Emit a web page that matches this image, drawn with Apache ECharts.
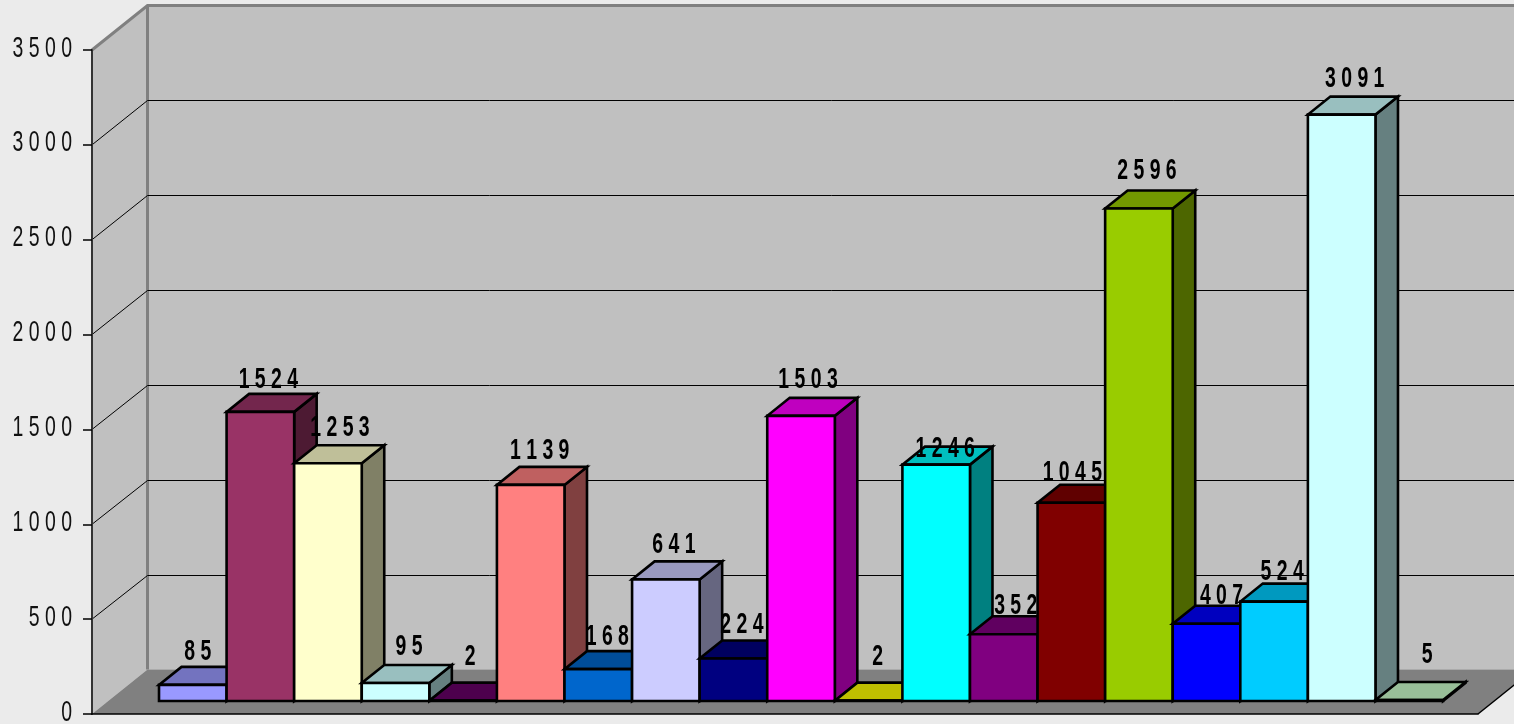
<!DOCTYPE html>
<html>
<head>
<meta charset="utf-8">
<style>html,body{margin:0;padding:0;background:#ebebeb;overflow:hidden}#c{width:1514px;height:724px}</style>
<script src="https://cdn.jsdelivr.net/npm/echarts@6/dist/echarts.min.js"></script>
</head>
<body>
<div id="c"></div>
<script>
const values = [85,1524,1253,95,2,1139,168,641,224,1503,2,1246,352,1045,2596,407,524,3091,5];
const colors = ['#9999FF','#993366','#FFFFCC','#CCFFFF','#660066','#FF8080','#0066CC','#CCCCFF','#000080','#FF00FF','#FFFF00','#00FFFF','#800080','#800000','#99CC00','#0000FF','#00CCFF','#CCFFFF','#CCFFCC'];
const yTicks = [0,500,1000,1500,2000,2500,3000,3500];

// label placement relative to the bar's front-top centre (layout only)
const labelDx = [5,8,12,13.5,7,9,9,8,8.5,7,9,9,12,1,8,15,8,13,18];
const labelDy = [-33,-32,-35,-36,-44,-34,-32,-34,-34,-36,-44,-16,-28,-30,-38,-28,-30,-36,-45];

const X_MIN = -0.7325, X_MAX = 19.776, Y_MAX = 3500;
const WALL = [55.5,-44.5], FRONT = [17.5,-13], DEPTH = [22.5,-18];
const TEXT_SCALE = 0.67;

const shade = (hex,k) => {
  const n = parseInt(hex.slice(1),16);
  const c = [n>>16&255,n>>8&255,n&255].map(v=>Math.round(v*k));
  return `rgb(${c.join(',')})`;
};
const spaced = v => String(v).split('').join(' ');
const add = (p,d) => [p[0]+d[0],p[1]+d[1]];

const chart = echarts.init(document.getElementById('c'),null,{renderer:'canvas'});
chart.setOption({
  animation:false,
  backgroundColor:'#ebebeb',
  grid:{left:92,top:50,width:1386,height:664,containLabel:false},
  xAxis:{type:'value',min:X_MIN,max:X_MAX,z:5,
    axisLine:{show:true,onZero:false,lineStyle:{color:'#000',width:1.5}},
    axisTick:{show:false},axisLabel:{show:false},splitLine:{show:false}},
  yAxis:{type:'value',min:0,max:Y_MAX,interval:500,z:5,
    axisLine:{show:true,onZero:false,lineStyle:{color:'#333',width:2}},
    axisTick:{show:true,length:9,lineStyle:{color:'#000',width:1.5}},
    axisLabel:{show:false},splitLine:{show:false}},
  series:[
    { // walls and floor
      type:'custom',z:1,silent:true,data:[[X_MIN,0]],encode:{x:0,y:1},
      renderItem(p,api){
        const bl=api.coord([X_MIN,0]), br=api.coord([X_MAX,0]), tl=api.coord([X_MIN,Y_MAX]), tr=api.coord([X_MAX,Y_MAX]);
        const poly=(pts,fill)=>({type:'polygon',shape:{points:pts},style:{fill,stroke:null}});
        return {type:'group',children:[
          poly([bl,add(bl,WALL),add(tl,WALL),tl],'#C0C0C0'),
          poly([add(bl,WALL),add(br,WALL),add(tr,WALL),add(tl,WALL)],'#C0C0C0'),
          poly([bl,br,add(br,WALL),add(bl,WALL)],'#808080'),
          {type:'line',shape:{x1:br[0],y1:br[1],x2:br[0]+WALL[0],y2:br[1]+WALL[1]},style:{stroke:'#000',lineWidth:1.5}},
          {type:'polyline',shape:{points:[tl,add(tl,WALL),add(tr,WALL)]},style:{fill:null,stroke:'#808080',lineWidth:3}},
          {type:'line',shape:{x1:bl[0]+WALL[0],y1:bl[1]+WALL[1],x2:tl[0]+WALL[0],y2:tl[1]+WALL[1]},style:{stroke:'#808080',lineWidth:3}}
        ]};
      }
    },
    { // grid lines on the walls
      type:'custom',z:2,silent:true,data:yTicks.slice(1,-1).map(t=>[X_MIN,t]),encode:{x:0,y:1},
      renderItem(p,api){
        const a=api.coord([X_MIN,api.value(1)]), b=add(a,WALL), c=add(api.coord([X_MAX,api.value(1)]),WALL);
        const y=Math.round(b[1])+.5;
        return {type:'polyline',shape:{points:[a,[b[0],y],[c[0],y]]},style:{fill:null,stroke:'#000',lineWidth:1}};
      }
    },
    { // 3D bars
      type:'custom',z:6,silent:true,data:values.map((v,i)=>[i,v]),encode:{x:0,y:1},
      renderItem(p,api){
        const i=api.value(0), v=api.value(1), col=colors[i];
        const a=add(api.coord([i,0]),FRONT), b=add(api.coord([i+1,0]),FRONT);
        const c=add(api.coord([i+1,v]),FRONT), d=add(api.coord([i,v]),FRONT);
        const face=(pts,fill)=>({type:'polygon',shape:{points:pts},style:{fill,stroke:'#000',lineWidth:2.6,lineJoin:'miter'}});
        return {type:'group',children:[
          face([b,add(b,DEPTH),add(c,DEPTH),c],shade(col,.5)),
          face([d,c,add(c,DEPTH),add(d,DEPTH)],shade(col,.75)),
          face([a,b,c,d],col)
        ]};
      }
    },
    { // data labels
      type:'custom',z:8,silent:true,data:values.map((v,i)=>[i,v]),encode:{x:0,y:1},
      renderItem(p,api){
        const i=api.value(0), v=api.value(1);
        const t=add(api.coord([i+.5,v]),FRONT);
        return {type:'text',x:t[0]+labelDx[i],y:t[1]+labelDy[i],scaleX:TEXT_SCALE,
          style:{text:spaced(v),x:0,y:0,align:'center',verticalAlign:'middle',
            font:'bold 29px "Liberation Sans"',fill:'#000'}};
      }
    },
    { // value-axis tick labels
      type:'custom',z:8,silent:true,data:yTicks.map(t=>[X_MIN,t]),encode:{x:0,y:1},
      renderItem(p,api){
        const t=api.coord([X_MIN,api.value(1)]);
        return {type:'text',x:t[0]-20,y:t[1]-1.5,scaleX:TEXT_SCALE,
          style:{text:spaced(api.value(1)),x:0,y:0,align:'right',verticalAlign:'middle',
            font:'29px "Liberation Sans"',fill:'#111'}};
      }
    }
  ]
});
</script>
</body>
</html>
